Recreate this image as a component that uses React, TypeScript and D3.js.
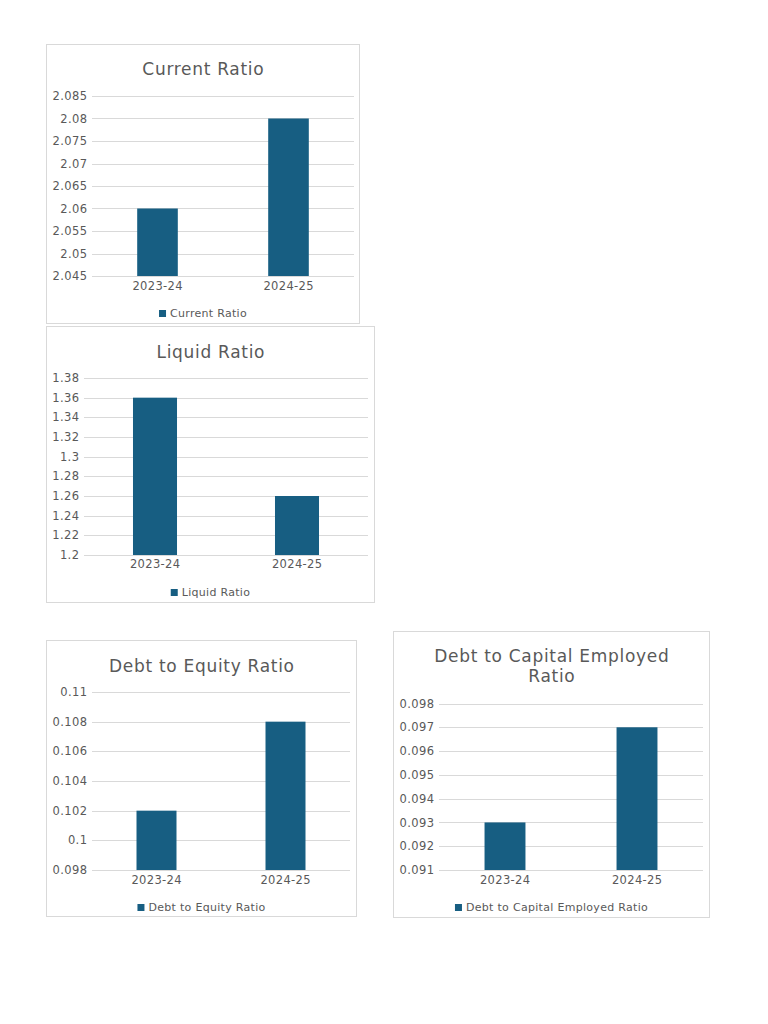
import { useEffect, useRef } from 'react';
import * as d3 from 'd3';

// Data
const categories = ['2023-24', '2024-25'];

const currentRatio = [2.06, 2.08];
const currentTicks = [2.045, 2.05, 2.055, 2.06, 2.065, 2.07, 2.075, 2.08, 2.085];

const liquidRatio = [1.36, 1.26];
const liquidTicks = [1.2, 1.22, 1.24, 1.26, 1.28, 1.3, 1.32, 1.34, 1.36, 1.38];

const debtEquity = [0.102, 0.108];
const debtEquityTicks = [0.098, 0.1, 0.102, 0.104, 0.106, 0.108, 0.11];

const debtCapital = [0.093, 0.097];
const debtCapitalTicks = [0.091, 0.092, 0.093, 0.094, 0.095, 0.096, 0.097, 0.098];

const BAR = '#175E82';
const TEXT = '#595959';
const GRID = '#D9D9D9';
const FONT = '"DejaVu Sans", sans-serif';

interface Panel {
  title: string[];
  legend: string;
  values: number[];
  ticks: number[];
  frame: { x: number; y: number; w: number; h: number };
  plot: { left: number; right: number; top: number; bottom: number };
  titleY: number;
  catY: number;
  legendY: number;
}

const panels: Panel[] = [
  {
    title: ['Current Ratio'],
    legend: 'Current Ratio',
    values: currentRatio,
    ticks: currentTicks,
    frame: { x: 46.5, y: 44.5, w: 313, h: 279 },
    plot: { left: 92, right: 354, top: 96, bottom: 276 },
    titleY: 75,
    catY: 290,
    legendY: 317,
  },
  {
    title: ['Liquid Ratio'],
    legend: 'Liquid Ratio',
    values: liquidRatio,
    ticks: liquidTicks,
    frame: { x: 46.5, y: 326.5, w: 328, h: 276 },
    plot: { left: 84, right: 368, top: 378, bottom: 555 },
    titleY: 358,
    catY: 568,
    legendY: 596,
  },
  {
    title: ['Debt to Equity Ratio'],
    legend: 'Debt to Equity Ratio',
    values: debtEquity,
    ticks: debtEquityTicks,
    frame: { x: 46.5, y: 640.5, w: 310, h: 276 },
    plot: { left: 92, right: 350, top: 692, bottom: 870 },
    titleY: 672,
    catY: 884,
    legendY: 911,
  },
  {
    title: ['Debt to Capital Employed', 'Ratio'],
    legend: 'Debt to Capital Employed Ratio',
    values: debtCapital,
    ticks: debtCapitalTicks,
    frame: { x: 393.5, y: 631.5, w: 316, h: 286 },
    plot: { left: 439, right: 703, top: 703.5, bottom: 870 },
    titleY: 662,
    catY: 884,
    legendY: 911,
  },
];

export default function App() {
  const svgRef = useRef<SVGSVGElement>(null);

  useEffect(() => {
    if (!svgRef.current) return;
    const svg = d3.select(svgRef.current);
    svg.selectAll('*').remove();

    panels.forEach((p) => {
      const g = svg.append('g').attr('font-family', FONT);
      const cx = p.frame.x + p.frame.w / 2;

      g.append('rect')
        .attr('x', p.frame.x)
        .attr('y', p.frame.y)
        .attr('width', p.frame.w)
        .attr('height', p.frame.h)
        .attr('fill', '#fff')
        .attr('stroke', GRID);

      const x = d3.scaleBand<string>()
        .domain(categories)
        .range([p.plot.left, p.plot.right])
        .paddingInner(0.69)
        .paddingOuter(0.345);

      const y = d3.scaleLinear()
        .domain(d3.extent(p.ticks) as [number, number])
        .range([p.plot.bottom, p.plot.top]);

      // grid lines
      g.append('g')
        .selectAll('line')
        .data(p.ticks)
        .join('line')
        .attr('x1', p.plot.left)
        .attr('x2', p.plot.right)
        .attr('y1', (d) => Math.round(y(d)) + 0.5)
        .attr('y2', (d) => Math.round(y(d)) + 0.5)
        .attr('stroke', GRID);

      // tick labels
      g.append('g')
        .selectAll('text')
        .data(p.ticks)
        .join('text')
        .attr('x', p.plot.left - 4.6)
        .attr('y', (d) => y(d))
        .attr('dy', '0.36em')
        .attr('text-anchor', 'end')
        .attr('font-size', 11.5)
        .attr('letter-spacing', 0.4)
        .attr('fill', TEXT)
        .text((d) => String(d));

      // bars
      g.append('g')
        .selectAll('rect')
        .data(p.values)
        .join('rect')
        .attr('x', (_, i) => x(categories[i]) as number)
        .attr('width', x.bandwidth())
        .attr('y', (d) => y(d))
        .attr('height', (d) => y(y.domain()[0]) - y(d))
        .attr('fill', BAR);

      // category labels
      g.append('g')
        .selectAll('text')
        .data(categories)
        .join('text')
        .attr('x', (d) => (x(d) as number) + x.bandwidth() / 2 + 0.2)
        .attr('y', p.catY)
        .attr('text-anchor', 'middle')
        .attr('font-size', 11.5)
        .attr('letter-spacing', 0.35)
        .attr('fill', TEXT)
        .text((d) => d);

      // title
      p.title.forEach((line, i) => {
        g.append('text')
          .attr('x', cx + 0.35)
          .attr('y', p.titleY + i * 20)
          .attr('text-anchor', 'middle')
          .attr('font-size', 17)
          .attr('letter-spacing', 0.7)
          .attr('fill', TEXT)
          .text(line);
      });

      // legend, centred in the frame
      const lg = g.append('g');
      lg.append('rect')
        .attr('x', 0)
        .attr('y', p.legendY - 7)
        .attr('width', 7)
        .attr('height', 7)
        .attr('fill', BAR);
      const lt = lg.append('text')
        .attr('x', 11)
        .attr('y', p.legendY)
        .attr('font-size', 11)
        .attr('letter-spacing', 0.3)
        .attr('fill', TEXT)
        .text(p.legend);
      const w = 11 + (lt.node() as SVGTextElement).getComputedTextLength();
      lg.attr('transform', `translate(${cx - w / 2},0)`);
    });
  }, []);

  return (
    <div style={{ position: 'absolute', left: 0, top: 0 }}>
      <svg ref={svgRef} width={768} height={1024} style={{ display: 'block' }} />
    </div>
  );
}
